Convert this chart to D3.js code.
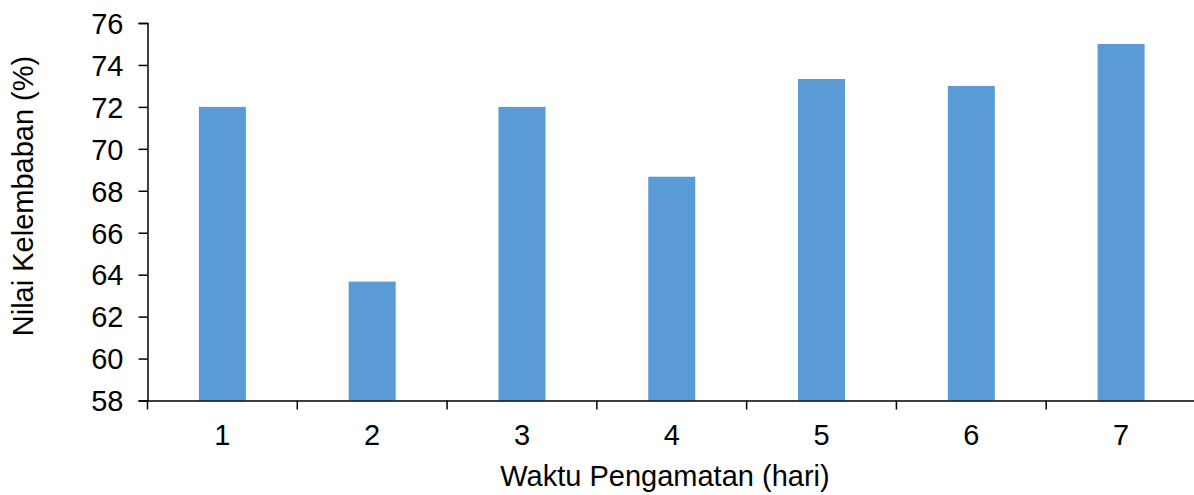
<!DOCTYPE html>
<html><head><meta charset="utf-8">
<script src="https://cdn.jsdelivr.net/npm/d3@7"></script>
<style>body{margin:0;background:#fff}svg{display:block}text{font-family:"Liberation Sans",Arial,sans-serif;fill:#000}</style>
</head><body><svg id="c" width="1194" height="495"></svg>
<script>
const categories = ["1","2","3","4","5","6","7"];
const values = [72, 63.67, 72, 68.67, 73.33, 73, 75];
const yTicks = [58,60,62,64,66,68,70,72,74,76];
const xTitle = "Waktu Pengamatan (hari)";
const yTitle = "Nilai Kelembaban (%)";

const svg = d3.select("#c");
const mLeft = 147.5, mRight = 1196, mTop = 23, mBottom = 400.5;
const fs = "29px";
const x = d3.scaleBand().domain(categories).range([mLeft, mRight]).paddingInner(0).paddingOuter(0);
const y = d3.scaleLinear().domain([58, 76]).range([mBottom, mTop]);
const bw = 47;

svg.append("g").selectAll("rect").data(values).join("rect")
  .attr("x", (d,i) => x(categories[i]) + x.bandwidth()/2 - bw/2)
  .attr("width", bw)
  .attr("y", d => y(d))
  .attr("height", d => y(58) - y(d))
  .attr("fill", "#5B9BD5");

const yAxis = svg.append("g").attr("transform", `translate(${mLeft},0)`)
  .call(d3.axisLeft(y).tickValues(yTicks).tickSize(9).tickPadding(15).tickFormat(d3.format("d")));
yAxis.attr("font-size", null).attr("font-family", null);
yAxis.selectAll("text").style("font-size",fs).attr("dy","0.355em");
yAxis.selectAll("line,path").attr("stroke","#000").attr("stroke-width",1.5);

const xAxis = svg.append("g").attr("transform", `translate(0,${mBottom})`)
  .call(d3.axisBottom(x).tickSize(0).tickPadding(23.5));
xAxis.attr("font-size", null).attr("font-family", null);
xAxis.selectAll("text").style("font-size",fs);
xAxis.select(".domain").attr("stroke","#000").attr("stroke-width",1.5).attr("d", `M${mLeft},0.5H${mRight}`);
xAxis.selectAll(".sep").data(d3.range(categories.length+1)).join("line")
  .attr("x1", i => mLeft + i*x.bandwidth()).attr("x2", i => mLeft + i*x.bandwidth())
  .attr("y1", 0).attr("y2", 9).attr("stroke","#000").attr("stroke-width",1.5);

svg.append("text").attr("x", 665).attr("y", 486).attr("text-anchor","middle")
  .style("font-size",fs).text(xTitle);
svg.append("text").attr("transform","translate(33,196) rotate(-90)").attr("text-anchor","middle")
  .style("font-size",fs).text(yTitle);
</script></body></html>
